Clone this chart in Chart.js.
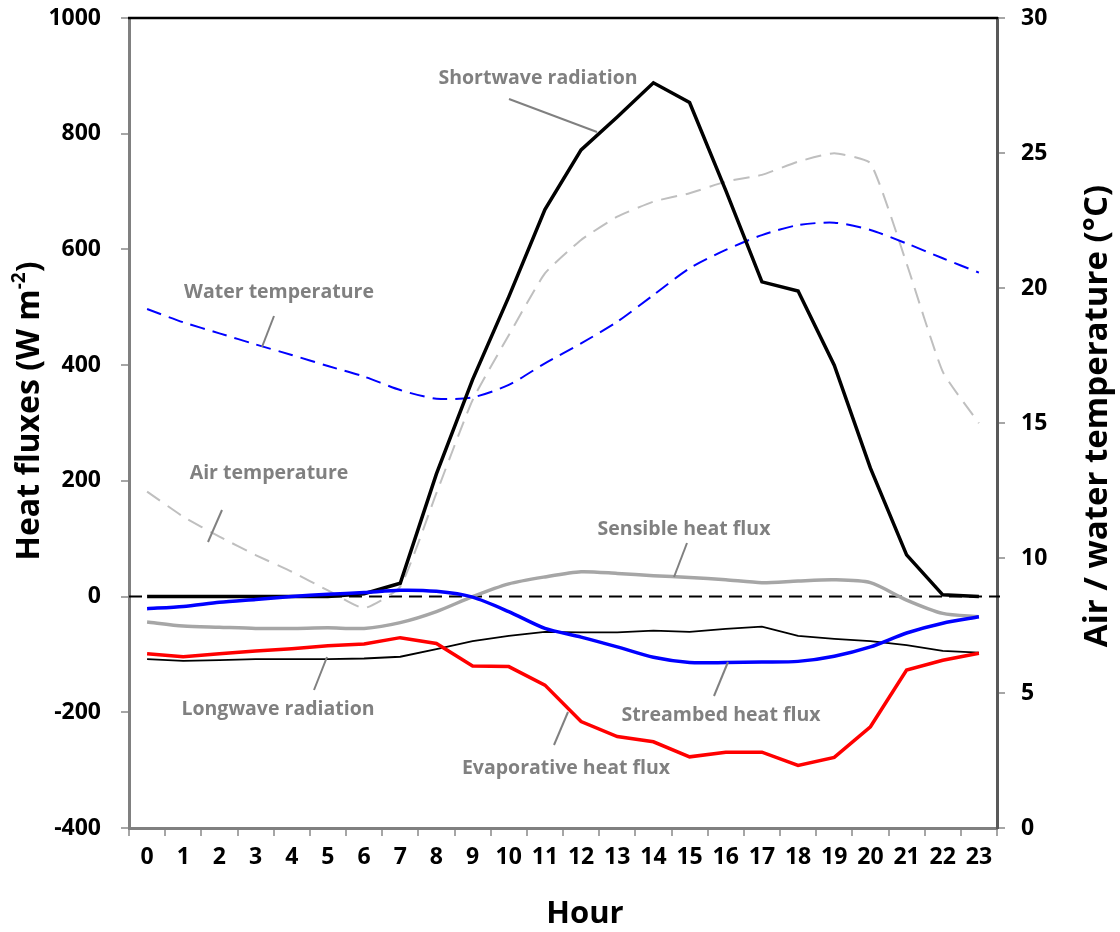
<!DOCTYPE html>
<html>
<head>
<meta charset="utf-8">
<script src="https://cdn.jsdelivr.net/npm/chart.js@4.4.1/dist/chart.umd.min.js"></script>
<style>
  html, body { margin: 0; padding: 0; background: #ffffff; }
  #wrap { width: 1120px; height: 932px; position: relative; }
</style>
</head>
<body>
<div id="wrap"><canvas id="c" width="1120" height="932"></canvas></div>
<script>
// ---------------- data ----------------
const hours = ['0','1','2','3','4','5','6','7','8','9','10','11','12','13','14','15','16','17','18','19','20','21','22','23'];

const shortwave   = [0,0,0,0,0,0,5,23,212,375,518,669,772,829,888,854,702,544,528,400,222,72,3,0];
const longwave    = [-108,-111,-110,-108,-108,-108,-107,-104,-91,-77,-68,-61,-62,-62,-59,-61,-56,-52,-68,-73,-77,-84,-94,-97];
const sensible    = [-44,-51,-53,-55,-55,-54,-55,-45,-26,0,22,34,43,40,36,33,29,24,27,29,24,-6,-29,-35];
const evaporative = [-99,-104,-99,-94,-90,-85,-82,-71,-81,-120,-121,-153,-216,-242,-251,-277,-269,-269,-292,-278,-225,-127,-110,-98];
const streambed   = [-21,-17,-10,-5,0,4,7,11,9,-1,-26,-55,-70,-87,-105,-114,-114,-113,-112,-103,-87,-63,-46,-35];
const airTemp     = [12.46,11.53,10.79,10.11,9.49,8.8,8.14,8.94,12.4,15.85,18.25,20.54,21.78,22.64,23.2,23.51,23.94,24.19,24.68,24.99,24.62,20.91,16.9,14.99];
const waterTemp   = [19.22,18.73,18.32,17.91,17.52,17.11,16.72,16.22,15.9,15.95,16.41,17.21,17.95,18.75,19.74,20.73,21.41,21.96,22.33,22.42,22.15,21.65,21.1,20.57];

const fluxMin = -400, fluxMax = 1000, fluxStep = 200;
const tempMin = 0, tempMax = 30, tempStep = 5;

const seriesLabels = ['Shortwave radiation','Water temperature','Air temperature','Sensible heat flux','Longwave radiation','Streambed heat flux','Evaporative heat flux'];

// ---------------- annotation layout (pixel positions) ----------------
const notes = [
  { text: seriesLabels[0], tx: 538, ty: 78,  line: [509, 99, 597, 132] },
  { text: seriesLabels[1], tx: 279, ty: 292, line: [274, 316, 262, 347] },
  { text: seriesLabels[2], tx: 269, ty: 473, line: [222, 510, 208, 542] },
  { text: seriesLabels[3], tx: 684, ty: 529, line: [687, 543, 674, 577] },
  { text: seriesLabels[4], tx: 278, ty: 709, line: [327, 657, 314, 690] },
  { text: seriesLabels[5], tx: 721, ty: 715, line: [728, 662, 714, 696] },
  { text: seriesLabels[6], tx: 566, ty: 768, line: [568, 712, 554, 745] }
];

const FONT = "'Open Sans', 'DejaVu Sans', sans-serif";

const decorPlugin = {
  id: 'decor',
  beforeDatasetsDraw(chart) {
    const { ctx, chartArea, scales } = chart;
    const y0 = scales.y.getPixelForValue(0);
    ctx.save();
    ctx.strokeStyle = '#000000';
    ctx.lineWidth = 2;
    ctx.setLineDash([13, 7]);
    ctx.beginPath();
    ctx.moveTo(chartArea.left, y0);
    ctx.lineTo(chartArea.right + 3, y0);
    ctx.stroke();
    ctx.restore();
  },
  afterDraw(chart) {
    const { ctx, chartArea } = chart;
    ctx.save();
    // top border
    ctx.strokeStyle = '#000000';
    ctx.lineWidth = 2.5;
    ctx.beginPath();
    ctx.moveTo(chartArea.left - 1, chartArea.top);
    ctx.lineTo(chartArea.right + 1, chartArea.top);
    ctx.stroke();

    // annotations
    ctx.fillStyle = '#808080';
    ctx.strokeStyle = '#808080';
    ctx.lineWidth = 2;
    ctx.font = 'bold 19.5px ' + FONT;
    ctx.textAlign = 'center';
    ctx.textBaseline = 'middle';
    notes.forEach(n => {
      ctx.fillText(n.text, n.tx, n.ty);
      ctx.beginPath();
      ctx.moveTo(n.line[0], n.line[1]);
      ctx.lineTo(n.line[2], n.line[3]);
      ctx.stroke();
    });

    // left axis title with superscript
    ctx.fillStyle = '#000000';
    const mainFont = 'bold 32px ' + FONT;
    const supFont = 'bold 19px ' + FONT;
    const p1 = 'Heat fluxes (W m', p2 = '-2', p3 = ')';
    ctx.font = mainFont; const w1 = ctx.measureText(p1).width; const w3 = ctx.measureText(p3).width;
    ctx.font = supFont;  const w2 = ctx.measureText(p2).width;
    const total = w1 + w2 + w3;
    ctx.save();
    ctx.translate(30, 411);
    ctx.rotate(-Math.PI / 2);
    ctx.textAlign = 'left';
    ctx.textBaseline = 'middle';
    let x = -total / 2;
    ctx.font = mainFont; ctx.fillText(p1, x, 0); x += w1;
    ctx.font = supFont;  ctx.fillText(p2, x, -10); x += w2;
    ctx.font = mainFont; ctx.fillText(p3, x, 0);
    ctx.restore();

    // right axis title
    ctx.save();
    ctx.translate(1098, 416);
    ctx.rotate(-Math.PI / 2);
    ctx.textAlign = 'center';
    ctx.textBaseline = 'middle';
    ctx.font = 'bold 33px ' + FONT;
    ctx.fillText('Air / water temperature (°C)', 0, 0);
    ctx.restore();

    // x axis title
    ctx.textAlign = 'center';
    ctx.textBaseline = 'middle';
    ctx.font = 'bold 31px ' + FONT;
    ctx.fillText('Hour', 585, 914);
    ctx.restore();
  }
};

const common = { pointRadius: 0, pointHoverRadius: 0, fill: false };

const tickFont = { family: FONT, size: 23, weight: 'bold' };
const plainNumber = v => String(v);
const zeroPad = s => { s.paddingTop = 0; s.paddingBottom = 0; s.paddingLeft = 0; s.paddingRight = 0; };

new Chart(document.getElementById('c'), {
  type: 'line',
  data: {
    labels: hours,
    datasets: [
      { ...common, label: seriesLabels[5], data: streambed,   yAxisID: 'y',  borderColor: '#0000ff', borderWidth: 3.5, tension: 0.25 },
      { ...common, label: seriesLabels[6], data: evaporative, yAxisID: 'y',  borderColor: '#ff0000', borderWidth: 3.5, tension: 0 },
      { ...common, label: seriesLabels[0], data: shortwave,   yAxisID: 'y',  borderColor: '#000000', borderWidth: 3.5, tension: 0 },
      { ...common, label: seriesLabels[3], data: sensible,    yAxisID: 'y',  borderColor: '#a6a6a6', borderWidth: 3.5, tension: 0.25 },
      { ...common, label: seriesLabels[4], data: longwave,    yAxisID: 'y',  borderColor: '#000000', borderWidth: 1.8, tension: 0 },
      { ...common, label: seriesLabels[1], data: waterTemp,   yAxisID: 'y2', borderColor: '#0000ff', borderWidth: 2, borderDash: [15, 8], tension: 0.25 },
      { ...common, label: seriesLabels[2], data: airTemp,     yAxisID: 'y2', borderColor: '#bfbfbf', borderWidth: 2, borderDash: [16, 9], tension: 0.15 }
    ]
  },
  options: {
    responsive: false,
    animation: false,
    devicePixelRatio: 1,
    layout: { padding: { top: 18, left: 0, right: 0, bottom: 0 } },
    plugins: {
      legend: { display: false },
      tooltip: { enabled: false },
      title: { display: false }
    },
    scales: {
      x: {
        type: 'category',
        offset: true,
        grid: { display: true, drawOnChartArea: false, drawTicks: true, tickLength: 8, offset: true, color: '#a6a6a6', lineWidth: 2 },
        border: { display: true, color: '#808080', width: 3 },
        ticks: { color: '#000000', font: tickFont, padding: 8, maxRotation: 0, autoSkip: false },
        afterFit(s) { s.height = 104; zeroPad(s); }
      },
      y: {
        position: 'left',
        min: fluxMin, max: fluxMax,
        grid: { display: true, drawOnChartArea: false, drawTicks: true, tickLength: 8, color: '#a6a6a6', lineWidth: 2 },
        border: { display: true, color: '#808080', width: 3 },
        ticks: { stepSize: fluxStep, color: '#000000', font: tickFont, padding: 20, callback: plainNumber },
        afterFit(s) { s.width = 129; zeroPad(s); }
      },
      y2: {
        position: 'right',
        min: tempMin, max: tempMax,
        grid: { display: true, drawOnChartArea: false, drawTicks: true, tickLength: 8, color: '#a6a6a6', lineWidth: 2 },
        border: { display: true, color: '#595959', width: 3 },
        ticks: { stepSize: tempStep, color: '#000000', font: tickFont, padding: 16, callback: plainNumber },
        afterFit(s) { s.width = 123; zeroPad(s); }
      }
    }
  },
  plugins: [decorPlugin]
});
</script>
</body>
</html>
